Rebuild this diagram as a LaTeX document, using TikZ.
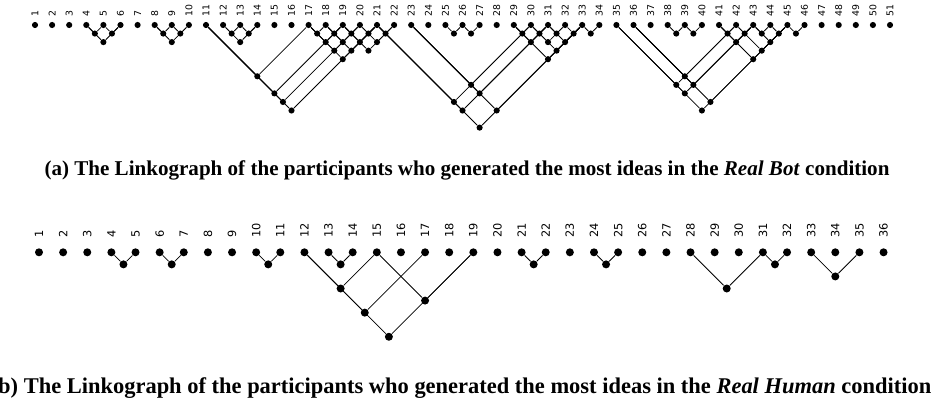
\documentclass[tikz,border=0pt]{standalone}
\usepackage{fontspec}
\setmainfont{Liberation Serif}
\newfontfamily\numfont{DejaVu Sans}
\usetikzlibrary{calc}
\def\lnk#1#2#3{\node[#1dot] (#1#2-#3) at ($(#1#2)!0.7071!-45:(#1#3)$) {};
	\draw (#1#2) -- (#1#2-#3) -- (#1#3);}

\begin{document}
\begin{tikzpicture}[x=0.75pt, y=-0.75pt, line width=0.6pt,
		adot/.style={circle, fill, inner sep=0pt, minimum size=4.6pt},
		bdot/.style={circle, fill, inner sep=0pt, minimum size=6pt},
		albl/.style={rotate=90, anchor=west, inner sep=0pt, font=\numfont\fontsize{7}{8}\selectfont},
		blbl/.style={rotate=90, anchor=west, inner sep=0pt, font=\numfont\fontsize{8.5}{10}\selectfont},
		caption/.style={anchor=base, inner sep=0pt}]
			%%%%% START %%%%%
			
			\useasboundingbox (0, 0) rectangle (934, 400);
			\clip (0, 0) rectangle (934, 400);
			
			% (a) moves
			\foreach \i in {1,...,51} {
				\node[adot] (a\i) at ({35+(\i-1)*17.1}, 25) {};
				\node[albl] (la\i) at ($(a\i)+(0,-8.5)$) {\i};
			}
			
			\lnk a45 \lnk a56 \lnk a46
			\lnk a89 \lnk a9{10} \lnk a8{10}
			\lnk a{12}{13} \lnk a{13}{14} \lnk a{12}{14}
			\lnk a{11}{17} \lnk a{11}{19} \lnk a{11}{20} \lnk a{11}{21}
			
			\lnk a{17}{18} \lnk a{18}{19} \lnk a{19}{20} \lnk a{20}{21} \lnk a{21}{22}
			\lnk a{17}{19} \lnk a{18}{20} \lnk a{19}{21} \lnk a{20}{22}
			\lnk a{17}{20} \lnk a{18}{21} \lnk a{19}{22}
			\lnk a{17}{21}
			
			\lnk a{21}{30} \lnk a{21}{31} \lnk a{21}{33}
			\lnk a{23}{30} \lnk a{23}{31} \lnk a{23}{33}
			\lnk a{25}{26} \lnk a{26}{27}
			
			\lnk a{29}{30} \lnk a{30}{31} \lnk a{31}{32} \lnk a{32}{33} \lnk a{33}{34}
			\lnk a{29}{31} \lnk a{30}{32} \lnk a{31}{33}
			\lnk a{30}{33} \lnk a{29}{33}
			
			\lnk a{35}{42} \lnk a{35}{43} \lnk a{35}{45}
			\lnk a{36}{42} \lnk a{36}{43} \lnk a{36}{45}
			\lnk a{38}{39} \lnk a{39}{40}
			
			\lnk a{41}{42} \lnk a{42}{43} \lnk a{43}{44} \lnk a{44}{45} \lnk a{45}{46}
			\lnk a{41}{43} \lnk a{43}{45}
			\lnk a{42}{45} \lnk a{41}{45}
			
			\node[caption, font=\bfseries\fontsize{15.8}{18}\selectfont] (capa) at (467, 175)
				{(a) The Linkograph of the participants who generated the most ideas in the \textit{Real Bot} condition};
			
			% (b) moves
			\foreach \i in {1,...,36} {
				\node[bdot] (b\i) at ({39+(\i-1)*24.13}, 252.3) {};
				\node[blbl] (lb\i) at ($(b\i)+(0,-14)$) {\i};
			}
			
			\lnk b45 \lnk b67 \lnk b{10}{11} \lnk b{13}{14}
			\lnk b{12}{15} \lnk b{12}{17} \lnk b{12}{19} \lnk b{15}{19}
			\lnk b{21}{22} \lnk b{24}{25}
			\lnk b{28}{31} \lnk b{31}{32} \lnk b{33}{35}
			
			\node[caption, font=\bfseries\fontsize{16.85}{19}\selectfont] (capb) at (461, 393)
				{(b) The Linkograph of the participants who generated the most ideas in the \textit{Real Human} condition};
			
			%%%%% END %%%%%
\end{tikzpicture}
\end{document}
